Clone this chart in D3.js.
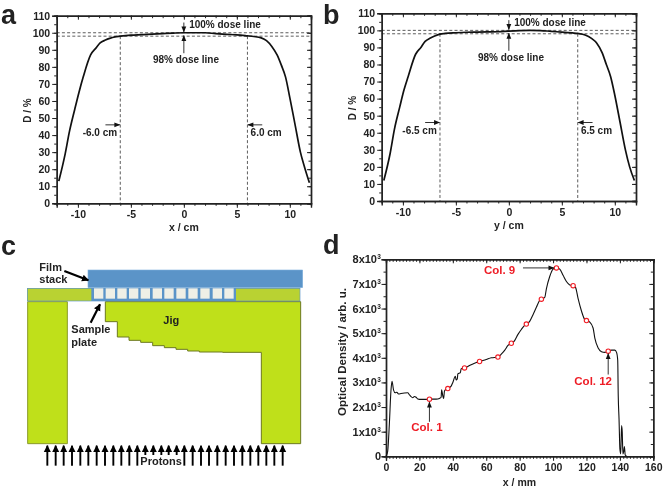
<!DOCTYPE html>
<html><head><meta charset="utf-8">
<script src="https://cdnjs.cloudflare.com/ajax/libs/d3/7.8.5/d3.min.js"></script>
<style>
html,body{margin:0;padding:0;background:#fff}
svg{display:block;filter:blur(.35px)}
text{font-family:"Liberation Sans",Arial,sans-serif;font-weight:700;fill:#222}
</style></head><body><svg id="c" width="663" height="488"></svg>
<script>
// Panel a: lateral dose profile
const profileAx=[-11.8,-11.2,-10.8,-10.3,-9.9,-9.5,-8.8,-8.3,-7.9,-7.4,-7,-6.5,-6,-5,-4,-3,-2,-1,0,1,2,3,4,5,6,6.6,7.3,7.8,8.3,8.8,9.2,9.6,10,10.5,11,11.4,11.85];
const profileAy=[13,29,42,55,65,74,87,91,94,95.7,96.7,97.6,98,98.6,98.9,99.2,99.5,99.8,100,100,100,99.5,99.1,98.8,98.2,97.8,97,95.4,92,87,81,74,62,46,30,21,12];
// Panel b: lateral dose profile
const profileBx=[-11.8,-11.2,-10.8,-10.3,-9.9,-9.5,-8.8,-8.3,-7.9,-7.4,-7,-6.5,-6,-5,-4,-3,-2,-1,0,1,2,3,4,5,6,6.5,7.2,7.8,8.3,8.8,9.2,9.6,10,10.5,11,11.4,11.85];
const profileBy=[12,28,42,55,65,73,86,90,93.5,95.5,96.7,97.8,98.2,98.6,98.9,99,99.1,99.2,99.6,99.9,100,99.9,99.4,99,98.5,98.2,97.3,95.3,92.5,87,80,73,62,46,30,20,12];
// Panel d: optical density scan
const odX=[0,1,2,3,3.6,4.5,5.5,6.5,7.5,9,11,13,14,15,16,17,18,19,21,24,26,30,32,33,33.3,34,34.5,35,36,37,39,40,41.5,42,42.7,43,44.5,45,47,49,51,53,56,60,63,67,69,71,73,75,77,79,81,83,84,86,88,90,92,93,95,96,98,100,102,104,106,108,110,112,113.5,115,117,119,120,122,124,125,127,129,131,133,135,137,138,138.7,139,139.5,140,140.5,141,141.4,141.8,142.3,142.7,143.2,144];
const odY=[0,200,1300,2700,3050,2700,2580,2600,2530,2550,2570,2580,2500,2420,2380,2430,2400,2330,2310,2310,2320,2320,2350,2400,2700,2450,2350,2650,2720,2750,2850,3000,3250,3100,3150,3350,3400,3560,3590,3650,3720,3780,3850,3930,4000,4030,4150,4300,4500,4590,4700,4950,5150,5320,5370,5480,5750,6050,6330,6380,6450,6800,7300,7600,7650,7600,7350,7100,6960,6930,6850,6400,5900,5550,5510,5450,5200,4800,4400,4250,4220,4270,4310,4310,4220,3900,2500,1500,300,100,1250,1000,100,200,400,50,0];
const colX=[26,37,47,56,67,75,84,93,102,112,120,133];
const colY=[2320,2750,3590,3850,4030,4590,5370,6380,7650,6930,5510,4270];
const doseTicks=[0,10,20,30,40,50,60,70,80,90,100,110];
const cmTicks=[-10,-5,0,5,10];
const mmTicks=[0,20,40,60,80,100,120,140,160];
const odTicks=[0,1000,2000,3000,4000,5000,6000,7000,8000];
// Panel c schematic, in drawing units
const jigStepX=[316,316,352,352,387,387,422,422,458,458,493,493,528,528,563,563,598,598,668,668,784,784,902,902];
const jigStepY=[200,260,260,306,306,316,316,322,322,332,332,338,338,343,343,348,348,351,351,352,352,626,626,200];
const legX=[83,202,202,83];
const legY=[200,200,626,626];
const cellX=[282,317,352,387,422,458,493,529,565,601,638,673];
const protonX=[142,167,191,216,241,265,290,315,340,364,388,412,436,460,484,506,530,553,578,603,627,652,677,702,727,751,775,799,823,848];
const shortProtons=[436,460,484,506,530];

const svg=d3.select("#c");
const dash="3,2.2", ink="#222";
const defs=svg.append("defs");
defs.append("marker").attr("id","ah").attr("viewBox","0 0 10 10").attr("refX",9).attr("refY",5)
 .attr("markerWidth",6.5).attr("markerHeight",6).attr("markerUnits","userSpaceOnUse").attr("orient","auto")
 .append("path").attr("d","M0,1 L10,5 L0,9Z").attr("fill","#111");
defs.append("marker").attr("id","big").attr("viewBox","0 0 10 10").attr("refX",9).attr("refY",5)
 .attr("markerWidth",7).attr("markerHeight",8).attr("markerUnits","userSpaceOnUse").attr("orient","auto")
 .append("path").attr("d","M0,0 L10,5 L0,10Z").attr("fill","#000");

function arrow(g,x1,y1,x2,y2,w,big){
 g.append("line").attr("x1",x1).attr("y1",y1).attr("x2",x2).attr("y2",y2).attr("stroke",big?"#000":"#333").attr("stroke-width",w||1).attr("marker-end",big?"url(#big)":"url(#ah)");
}
function frame(g,x,y,xMajor,xMinor,yMajor,yMinor,xFmt,yFmt,fs){
 const [l,r]=x.range(), [b,t]=y.range();
 const ax=(gen,tx)=>{const s=g.append("g").attr("transform",tx).call(gen);s.selectAll("path").attr("stroke",ink).attr("stroke-width",1.4);s.selectAll("line").attr("stroke",ink).attr("stroke-width",1);return s;};
 ax(d3.axisBottom(x).tickValues(xMinor).tickSize(2.5).tickFormat(""),`translate(0,${b})`);
 ax(d3.axisTop(x).tickValues(xMinor).tickSize(-2.5).tickFormat(""),`translate(0,${t})`);
 ax(d3.axisLeft(y).tickValues(yMinor).tickSize(2.5).tickFormat(""),`translate(${l},0)`);
 ax(d3.axisRight(y).tickValues(yMinor).tickSize(-2.5).tickFormat(""),`translate(${r},0)`);
 ax(d3.axisTop(x).tickValues(xMajor).tickSize(-4).tickFormat(""),`translate(0,${t})`);
 ax(d3.axisRight(y).tickValues(yMajor).tickSize(-4).tickFormat(""),`translate(${r},0)`);
 const bx=ax(d3.axisBottom(x).tickValues(xMajor).tickSize(4.5).tickPadding(3).tickFormat(xFmt),`translate(0,${b})`);
 const ly=ax(d3.axisLeft(y).tickValues(yMajor).tickSize(4.5).tickPadding(2).tickFormat(yFmt),`translate(${l},0)`);
 bx.selectAll("text").attr("font-size",fs).attr("fill","#222");
 ly.selectAll("text").attr("font-size",fs).attr("fill","#222");
}
function seq(a,b,s){return d3.range(a,b+s/2,s);}

function dosePanel(o){
 const g=svg.append("g");
 const x=d3.scaleLinear().domain([-12,12]).range([o.l,o.r]);
 const y=d3.scaleLinear().domain([0,110]).range([o.b,o.t]);
 [100,98].forEach(v=>g.append("line").attr("x1",o.l).attr("x2",o.r).attr("y1",y(v)).attr("y2",y(v)).attr("stroke","#333").attr("stroke-width",.8).attr("stroke-dasharray",dash));
 [-o.edge,o.edge].forEach(v=>g.append("line").attr("x1",x(v)).attr("x2",x(v)).attr("y1",y(98)).attr("y2",o.b).attr("stroke","#333").attr("stroke-width",.8).attr("stroke-dasharray",dash));
 frame(g,x,y,cmTicks,seq(-12,12,1),doseTicks,seq(0,110,5),d=>d,d=>d,10.5);
 g.append("path").attr("fill","none").attr("stroke","#111").attr("stroke-width",1.7)
  .attr("d",d3.line().x(d=>x(d[0])).y(d=>y(d[1])).curve(d3.curveMonotoneX)(d3.zip(o.px,o.py)));
 const t=(s,dx,dy,a,fs)=>g.append("text").attr("x",x(dx)).attr("y",y(dy)).attr("text-anchor",a||"start").attr("font-size",fs||10).text(s);
 t("100% dose line",.5,102.6);
 t("98% dose line",.2,82,"middle");
 t(`-${o.edge.toFixed(1)} cm`,-o.edge-.3,o.lab,"end");
 t(`${o.edge.toFixed(1)} cm`,o.edge+.3,o.lab);
 arrow(g,x(0),y(106),x(0),y(100.5));
 arrow(g,x(0),y(88),x(0),y(98.3));
 arrow(g,x(-o.edge-1.4),y(46),x(-o.edge-.05),y(46));
 arrow(g,x(o.edge+1.4),y(46),x(o.edge+.05),y(46));
 g.append("text").attr("x",(o.l+o.r)/2).attr("y",o.b+27.5).attr("text-anchor","middle").attr("font-size",10.5).text(o.xt);
 g.append("text").attr("transform",`translate(${o.l-26},${(o.b+o.t)/2+1}) rotate(-90)`).attr("text-anchor","middle").attr("font-size",10).text("D / %");
}
dosePanel({l:56.7,r:311,t:15.7,b:203.3,edge:6,lab:39.5,px:profileAx,py:profileAy,xt:"x / cm"});
dosePanel({l:381.7,r:636,t:13.3,b:201,edge:6.5,lab:39.5,px:profileBx,py:profileBy,xt:"y / cm"});

// Panel d
(function(){
 const g=svg.append("g");
 const x=d3.scaleLinear().domain([0,160]).range([386,653.3]);
 const y=d3.scaleLinear().domain([0,8000]).range([456.3,259.3]);
 frame(g,x,y,mmTicks,seq(0,160,2),odTicks,seq(0,8000,500),d=>d,d=>"",10.5);
 odTicks.forEach(v=>{
  const s=g.append("text").attr("x",v===0?381:377).attr("y",y(v)+4).attr("text-anchor","end").attr("font-size",11);
  if(v===0){s.text("0");return;}
  s.append("tspan").text(`${v/1000}x10`);
  g.append("text").attr("x",377.3).attr("y",y(v)).attr("font-size",6.5).text("3");
 });
 g.append("path").attr("fill","none").attr("stroke","#111").attr("stroke-width",1.1)
  .attr("d",d3.line().x(d=>x(d[0])).y(d=>y(d[1])).curve(d3.curveMonotoneX)(d3.zip(odX,odY)));
 g.selectAll("circle").data(d3.zip(colX,colY)).join("circle").attr("cx",d=>x(d[0])).attr("cy",d=>y(d[1])).attr("r",2.2)
  .attr("fill","#fff").attr("stroke","#f01c24").attr("stroke-width",1.1);
 const red=(s,dx,dy)=>g.append("text").attr("x",x(dx)).attr("y",y(dy)).attr("text-anchor","middle").attr("font-size",11.5).style("fill","#ee1c25").text(s);
 red("Col. 1",24.5,1040);
 red("Col. 9",68,7400);
 red("Col. 12",124,2890);
 arrow(g,x(26),y(1400),x(26),y(2200));
 arrow(g,x(82),y(7650),x(100.5),y(7650));
 arrow(g,x(133),y(3320),x(133),y(4170));
 g.append("text").attr("x",519.5).attr("y",486).attr("text-anchor","middle").attr("font-size",10.5).text("x / mm");
 g.append("text").attr("transform",`translate(346,352) rotate(-90)`).attr("text-anchor","middle").attr("font-size",11.5).text("Optical Density / arb. u.");
})();

// Panel c
(function(){
 const g=svg.append("g");
 const x=d3.scaleLinear().domain([0,960]).range([0,320]);
 const y=d3.scaleLinear().domain([0,759]).range([235,488]);
 const poly=(xs,ys,fill,st,w)=>g.append("path").attr("d",d3.line().x(d=>x(d[0])).y(d=>y(d[1])).curve(d3.curveLinearClosed)(d3.zip(xs,ys))).attr("fill",fill).attr("stroke",st||"none").attr("stroke-width",w||0);
 const rect=(a,b,c,d,fill,st,w)=>g.append("rect").attr("x",x(a)).attr("y",y(b)).attr("width",x(c)-x(a)).attr("height",y(d)-y(b)).attr("fill",fill).attr("stroke",st||"none").attr("stroke-width",w||0);
 poly(legX,legY,"#bfe01a","#8a9a2a",1);
 poly(jigStepX,jigStepY,"#bfe01a","#6d7a20",1);
 rect(81,159,901,199,"#5b94c8");
 rect(83,161,274,197,"#b9d232");
 rect(708,161,899,197,"#b9d232");
 g.selectAll("rect.cell").data(cellX).join("rect").attr("class","cell").attr("x",d=>x(d)).attr("y",y(160)).attr("width",x(28)).attr("height",y(191)-y(160)).attr("fill","#efefe6");
 rect(264,105,908,158,"#5b94c8","#7fb0dc",.6);
 const t=(s,a,b,anchor)=>g.append("text").attr("x",x(a)).attr("y",y(b)).attr("text-anchor",anchor||"start").attr("font-size",11).text(s);
 t("Film",118,107);t("stack",118,145);t("Jig",490,266);t("Sample",214,294);t("plate",214,332);t("Protons",421,691);
 arrow(g,x(193),y(108),x(265),y(136),2.2,true);
 arrow(g,x(272),y(263),x(300),y(208),2.2,true);
 protonX.forEach(p=>{
  const short=shortProtons.includes(p);
  arrow(g,x(p),y(short?660:692),x(p),y(632),1.9,true);
 });
})();

// Panel letters
[["a",1,23.5],["b",323,23.5],["c",1,255],["d",323,254]].forEach(d=>svg.append("text").attr("x",d[1]).attr("y",d[2]).attr("font-size",27).text(d[0]));
</script></body></html>
